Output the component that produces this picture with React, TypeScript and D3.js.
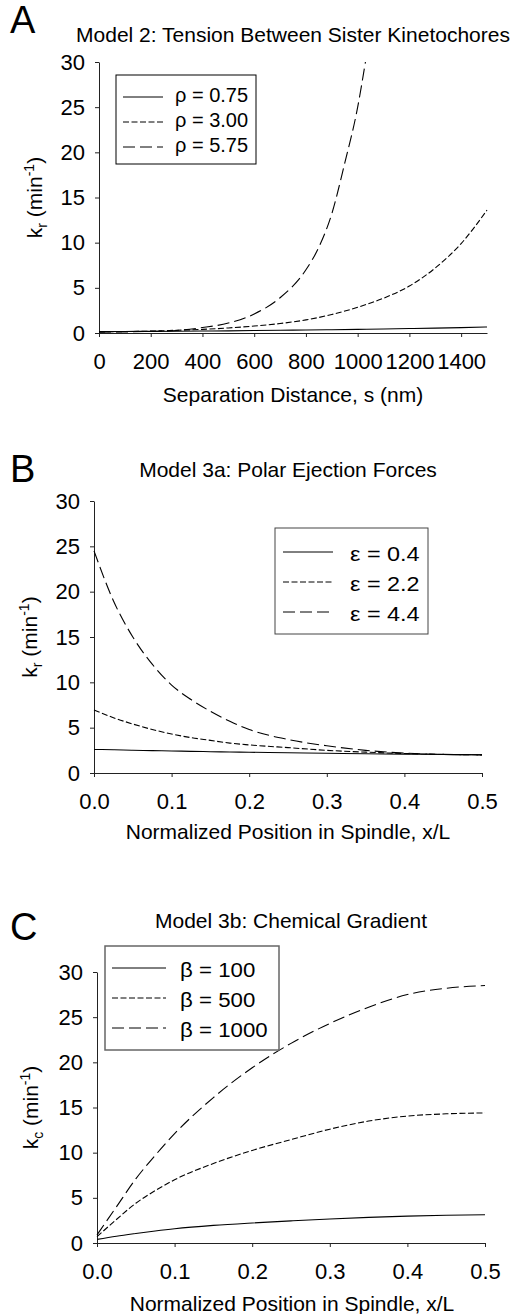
import React, { useEffect, useRef } from "react";
import * as d3 from "d3";

// Panel A: tension between sister kinetochores (k_r vs separation distance)
const sepDist = [0, 100, 200, 300, 400, 500, 600, 700, 800, 900, 1000, 1100, 1200, 1300, 1400, 1500];
const rho075 = [0.15, 0.17, 0.18, 0.2, 0.22, 0.24, 0.27, 0.3, 0.33, 0.36, 0.4, 0.44, 0.49, 0.54, 0.6, 0.67];
const rho300 = [0.12, 0.16, 0.21, 0.3, 0.4, 0.56, 0.77, 1.05, 1.45, 2.05, 2.85, 3.85, 5.2, 7.2, 9.9, 13.6];
const sepDistSteep = [0, 100, 200, 300, 400, 500, 600, 700, 800, 850, 900, 950, 1000, 1030];
const rho575 = [0.1, 0.12, 0.18, 0.28, 0.6, 1.1, 2.1, 3.9, 7.0, 9.5, 13.2, 18.8, 25.0, 30.0];

// Panel B: polar ejection forces (k_r vs x/L)
const posB = [0, 0.025, 0.05, 0.075, 0.1, 0.125, 0.15, 0.175, 0.2, 0.25, 0.3, 0.35, 0.4, 0.45, 0.5];
const eps04 = [2.6, 2.56, 2.51, 2.47, 2.43, 2.39, 2.35, 2.32, 2.29, 2.23, 2.17, 2.12, 2.08, 2.04, 2.01];
const eps22 = [6.95, 6.1, 5.4, 4.8, 4.3, 3.9, 3.6, 3.3, 3.1, 2.8, 2.5, 2.3, 2.15, 2.05, 2.0];
const eps44 = [24.5, 19.0, 15.0, 12.0, 9.7, 8.1, 6.8, 5.7, 4.8, 3.7, 3.0, 2.5, 2.2, 2.05, 2.0];

// Panel C: chemical gradient (k_c vs x/L)
const posC = [0, 0.025, 0.05, 0.075, 0.1, 0.15, 0.2, 0.25, 0.3, 0.35, 0.4, 0.45, 0.5];
const beta100 = [0.4, 0.75, 1.05, 1.33, 1.58, 1.95, 2.22, 2.45, 2.66, 2.84, 2.98, 3.07, 3.12];
const beta500 = [0.7, 2.6, 4.4, 5.8, 7.0, 8.8, 10.25, 11.45, 12.6, 13.5, 14.05, 14.3, 14.4];
const beta1000 = [0.9, 4.0, 7.1, 9.7, 12.1, 16.1, 19.4, 22.1, 24.3, 26.1, 27.5, 28.2, 28.5];

const yTicks = [0, 5, 10, 15, 20, 25, 30];
const sepTicks = [0, 200, 400, 600, 800, 1000, 1200, 1400];
const posTicks = [0, 0.1, 0.2, 0.3, 0.4, 0.5];

const legendA = ["\u03c1 = 0.75", "\u03c1 = 3.00", "\u03c1 = 5.75"];
const legendB = ["\u03b5 = 0.4", "\u03b5 = 2.2", "\u03b5 = 4.4"];
const legendC = ["\u03b2 = 100", "\u03b2 = 500", "\u03b2 = 1000"];
const dashes = ["none", "6,2.5", "12,5"];

const FONT = "'Liberation Sans', Arial, Helvetica, sans-serif";

const panels = [
  {
    letter: "A", letterX: 10, letterY: 33,
    title: "Model 2: Tension Between Sister Kinetochores", titleX: 293, titleY: 42,
    left: 99, right: 487, top: 62, bottom: 333,
    xDomain: [0, 1500], xTicks: sepTicks, xFmt: d3.format("d"),
    xTitle: "Separation Distance, s (nm)", xTitleX: 293, xTitleY: 402,
    yLabelX: 42, ySub: "r",
    series: [
      { xs: sepDist, ys: rho075 },
      { xs: sepDist, ys: rho300 },
      { xs: sepDistSteep, ys: rho575 },
    ],
    legend: {
      labels: legendA, x: 116, y: 75, w: 140, h: 89, stroke: "#000", sw: 1,
      lx1: 123, lx2: 163, tx: 175, row0: 97, gap: 25, base: 5, fs: 20, sx: 1,
    },
  },
  {
    letter: "B", letterX: 10, letterY: 482,
    title: "Model 3a: Polar Ejection Forces", titleX: 288, titleY: 477,
    left: 94, right: 482, top: 501, bottom: 773,
    xDomain: [0, 0.5], xTicks: posTicks, xFmt: d3.format(".1f"),
    xTitle: "Normalized Position in Spindle, x/L", xTitleX: 288, xTitleY: 839,
    yLabelX: 37, ySub: "r",
    series: [
      { xs: posB, ys: eps04 },
      { xs: posB, ys: eps22 },
      { xs: posB, ys: eps44 },
    ],
    legend: {
      labels: legendB, x: 275, y: 528, w: 153, h: 106, stroke: "#444", sw: 1,
      lx1: 283, lx2: 333, tx: 350, row0: 552, gap: 30, base: 9, fs: 19.5, sx: 1.2,
    },
  },
  {
    letter: "C", letterX: 10, letterY: 940,
    title: "Model 3b: Chemical Gradient", titleX: 291, titleY: 928,
    left: 97, right: 485, top: 972, bottom: 1243,
    xDomain: [0, 0.5], xTicks: posTicks, xFmt: d3.format(".1f"),
    xTitle: "Normalized Position in Spindle, x/L", xTitleX: 292, xTitleY: 1311,
    yLabelX: 38, ySub: "c",
    series: [
      { xs: posC, ys: beta100 },
      { xs: posC, ys: beta500 },
      { xs: posC, ys: beta1000 },
    ],
    legend: {
      labels: legendC, x: 105, y: 946, w: 174, h: 104, stroke: "#666", sw: 1.5,
      lx1: 112, lx2: 166, tx: 180, row0: 968, gap: 30, base: 9, fs: 21, sx: 1.06,
    },
  },
];

function drawPanel(svg: any, p: any) {
  const g = svg.append("g");
  const x = d3.scaleLinear().domain(p.xDomain).range([p.left, p.right]);
  const y = d3.scaleLinear().domain([0, 30]).range([p.bottom, p.top]);

  g.append("text")
    .attr("x", p.letterX).attr("y", p.letterY)
    .attr("font-size", 38).text(p.letter);

  g.append("text")
    .attr("x", p.titleX).attr("y", p.titleY)
    .attr("text-anchor", "middle").attr("font-size", 21)
    .text(p.title);

  const xAxis = g.append("g")
    .attr("transform", `translate(0,${p.bottom})`)
    .call(d3.axisBottom(x).tickValues(p.xTicks).tickFormat(p.xFmt)
      .tickSize(4).tickSizeOuter(0).tickPadding(16));
  const yAxis = g.append("g")
    .attr("transform", `translate(${p.left},0)`)
    .call(d3.axisLeft(y).tickValues(yTicks).tickFormat(d3.format("d"))
      .tickSize(4).tickSizeOuter(0).tickPadding(10));
  [xAxis, yAxis].forEach((a) => {
    a.attr("font-size", 22).attr("font-family", FONT);
    a.selectAll("path,line").attr("stroke", "#222");
    a.selectAll("text").attr("fill", "#000");
  });

  g.append("text")
    .attr("x", p.xTitleX).attr("y", p.xTitleY)
    .attr("text-anchor", "middle").attr("font-size", 21)
    .text(p.xTitle);

  const yl = g.append("text")
    .attr("transform", `translate(${p.yLabelX},${(p.top + p.bottom) / 2}) rotate(-90)`)
    .attr("text-anchor", "middle").attr("font-size", 21);
  yl.append("tspan").text("k");
  yl.append("tspan").attr("dy", 5).attr("font-size", 14).text(p.ySub);
  yl.append("tspan").attr("dy", -5).text(" (min");
  yl.append("tspan").attr("dy", -8).attr("font-size", 14).text("-1");
  yl.append("tspan").attr("dy", 8).text(")");

  p.series.forEach((s: any, i: number) => {
    const line = d3.line<number>()
      .x((_, j) => x(s.xs[j]))
      .y((d) => y(d))
      .curve(d3.curveMonotoneX);
    g.append("path")
      .attr("d", line(s.ys))
      .attr("fill", "none")
      .attr("stroke", "#000")
      .attr("stroke-width", 1.1)
      .attr("stroke-dasharray", dashes[i]);
  });

  const L = p.legend;
  g.append("rect")
    .attr("x", L.x).attr("y", L.y).attr("width", L.w).attr("height", L.h)
    .attr("fill", "#fff").attr("stroke", L.stroke).attr("stroke-width", L.sw);
  L.labels.forEach((lab: string, i: number) => {
    const ry = L.row0 + i * L.gap;
    g.append("line")
      .attr("x1", L.lx1).attr("x2", L.lx2).attr("y1", ry).attr("y2", ry)
      .attr("stroke", "#000").attr("stroke-width", 1)
      .attr("stroke-dasharray", dashes[i]);
    g.append("text")
      .attr("transform", `translate(${L.tx},${ry + L.base}) scale(${L.sx},1)`)
      .attr("font-size", L.fs)
      .text(lab);
  });
}

export default function App() {
  const svgRef = useRef<SVGSVGElement>(null);

  useEffect(() => {
    const svg = d3.select(svgRef.current);
    svg.selectAll("*").remove();
    panels.forEach((p) => drawPanel(svg, p));
  }, []);

  return (
    <svg
      ref={svgRef}
      width={519}
      height={1314}
      style={{ position: "absolute", left: 0, top: 0, background: "#fff" }}
      fontFamily={FONT}
    />
  );
}
